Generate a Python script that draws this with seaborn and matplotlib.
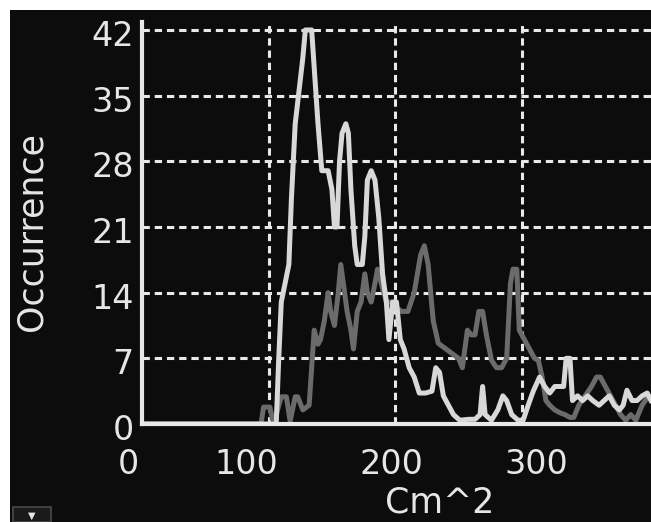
import matplotlib
matplotlib.use("Agg")
import matplotlib.pyplot as plt
import matplotlib.transforms as mtransforms
from matplotlib.patches import Rectangle
import seaborn as sns
import pandas as pd

# Histograma de areas (Cm^2), dos series
blanca_x = [0, 106, 108, 110, 113, 116, 118, 121, 124, 127, 129, 134, 136, 139, 142, 147,
            150, 152, 154, 156, 158, 161, 163, 165, 168, 170, 174, 176, 178, 181, 184, 187,
            190, 193, 195, 198, 201, 204, 207, 211, 215, 219, 224, 229, 232, 235, 238, 242,
            246, 251, 258, 263, 267, 269, 271, 276, 281, 285, 288, 292, 297, 301, 305, 309,
            314, 318, 322, 326, 330, 333, 335, 338, 340, 344, 348, 352, 356, 361, 365, 369,
            373, 377, 380, 383, 387, 391, 395, 399, 402]
blanca_y = [0, 0, 7, 13, 15, 17, 24, 32, 35.5, 39, 42, 42, 38, 32, 27, 27,
            25, 21, 21, 28, 31, 32, 31, 25, 19, 17, 17, 20, 26, 27, 26, 22,
            16, 13, 9, 13, 13, 9, 8, 6, 5, 3.3, 3.3, 3.5, 6, 5.5, 3, 2,
            1, 0.4, 0.5, 0.5, 1, 4, 1, 0.4, 1.5, 3, 2.5, 1, 0.4, 0.4, 2, 3.5,
            5, 4, 3.3, 4, 4, 4, 7, 7, 2.5, 3, 2.5, 3, 2.5, 2, 2.5, 3,
            2, 1.5, 2, 3.6, 2.5, 2.5, 3, 3.3, 2.5]

gris_x = [0, 94, 96, 101, 103, 106, 110, 114, 117, 121, 123, 127, 132, 134, 136, 139,
          141, 144, 147, 149, 152, 155, 157, 160, 162, 165, 167, 170, 173, 176, 178, 181,
          184, 186, 189, 193, 197, 200, 205, 210, 215, 220, 223, 226, 230, 234, 240, 245,
          250, 253, 257, 260, 263, 266, 269, 272, 276, 280, 284, 288, 291, 293, 296, 298,
          302, 306, 310, 313, 316, 319, 322, 326, 330, 334, 338, 341, 345, 350, 355, 359,
          362, 366, 370, 374, 378, 382, 386, 390, 395, 400]
gris_y = [0, 0, 1.8, 1.8, 0.5, 1, 2.9, 2.9, 0.3, 2.9, 2.9, 1.5, 2, 6, 10, 8.5,
          9, 11, 14, 12, 10.5, 14, 17, 14, 12, 10, 8, 12, 13, 16, 14, 13,
          15, 16.5, 15, 13, 13, 12.5, 12, 12, 14, 18, 19, 17, 11, 8.6, 8, 7.5,
          7, 6, 10, 9.5, 9.5, 12, 12, 9.5, 6.8, 6, 6, 7, 15, 16.5, 16.5, 10,
          9, 8, 7, 6.8, 5, 2.5, 2, 1.5, 1.2, 1, 0.7, 0.7, 2, 3, 4, 5,
          5, 4, 3, 2, 1, 0.4, 1, 0.4, 2, 3]

ticks_x = [0, 100, 200, 300]
ticks_y = [0, 7, 14, 21, 28, 35, 42]

df_blanca = pd.DataFrame({"area": blanca_x, "ocurrencias": blanca_y})
df_gris = pd.DataFrame({"area": gris_x, "ocurrencias": gris_y})

fondo = "#0c0c0c"
texto = "#e6e6e6"

fig = plt.figure(figsize=(6.51, 5.22), dpi=100, facecolor="white")
# fondo negro con el borde blanco arriba y a la izquierda
fig.patches.append(Rectangle((10 / 651, 0), 1 - 10 / 651, 512 / 522,
                             transform=fig.transFigure, facecolor=fondo,
                             edgecolor="none", zorder=-10))
# boton pequeño abajo a la izquierda
fig.patches.append(Rectangle((13 / 651, 0), 38 / 651, 15 / 522,
                             transform=fig.transFigure, facecolor="#1a1a1a",
                             edgecolor="#4a4a4a", linewidth=1.2, zorder=1))
fig.text(32 / 651, 6 / 522, "\u25bc", color=texto, fontsize=7,
         ha="center", va="center")

ax = fig.add_axes([142 / 651, 98 / 522, 509 / 651, 402 / 522])
ax.set_facecolor(fondo)

sns.lineplot(data=df_gris, x="area", y="ocurrencias", ax=ax, color="#6b6b6b",
             linewidth=3.6, estimator=None, sort=False, zorder=3)
sns.lineplot(data=df_blanca, x="area", y="ocurrencias", ax=ax, color="#d8d8d8",
             linewidth=3.6, estimator=None, sort=False, zorder=4)

ax.set_xlim(0, 402)
ax.set_ylim(0, 42.85)

# rejilla punteada
for v in ticks_x[1:]:
    ax.axvline(v, color="#e8e8e8", linewidth=2.2, linestyle=(0, (2.4, 1.6)), zorder=2)
for h in ticks_y[1:]:
    ax.axhline(h, color="#e8e8e8", linewidth=2.2, linestyle=(0, (2.4, 1.6)), zorder=2)

for lado in ["top", "right"]:
    ax.spines[lado].set_visible(False)
for lado in ["left", "bottom"]:
    ax.spines[lado].set_color("#e8e8e8")
    ax.spines[lado].set_linewidth(3)
    ax.spines[lado].set_zorder(5)

ax.set_xticks(ticks_x)
ax.set_xticklabels([str(t) for t in ticks_x])
ax.set_yticks(ticks_y)
ax.set_yticklabels([str(t) for t in ticks_y])
ax.tick_params(axis="both", length=0, colors=texto, labelsize=24)
ax.tick_params(axis="y", pad=6)
ax.tick_params(axis="x", pad=17)

# las etiquetas del eje x estan algo desplazadas en la imagen original
desplazamientos = [-14, -22, -4, 14]
for etiqueta, dx in zip(ax.get_xticklabels(), desplazamientos):
    etiqueta.set_transform(etiqueta.get_transform() +
                           mtransforms.ScaledTranslation(dx / 100, 0, fig.dpi_scale_trans))
for etiqueta in ax.get_yticklabels():
    etiqueta.set_transform(etiqueta.get_transform() +
                           mtransforms.ScaledTranslation(0, -3 / 100, fig.dpi_scale_trans))

ax.set_xlabel("Cm^2", color=texto, fontsize=25)
ax.xaxis.label.set_verticalalignment("bottom")
ax.xaxis.set_label_coords(0.585, -0.237)
ax.set_ylabel("Occurrence", color=texto, fontsize=25)
ax.yaxis.label.set_verticalalignment("center")
ax.yaxis.set_label_coords(-0.218, 0.478)

fig.savefig("out.png", dpi=100, facecolor=fig.get_facecolor())
